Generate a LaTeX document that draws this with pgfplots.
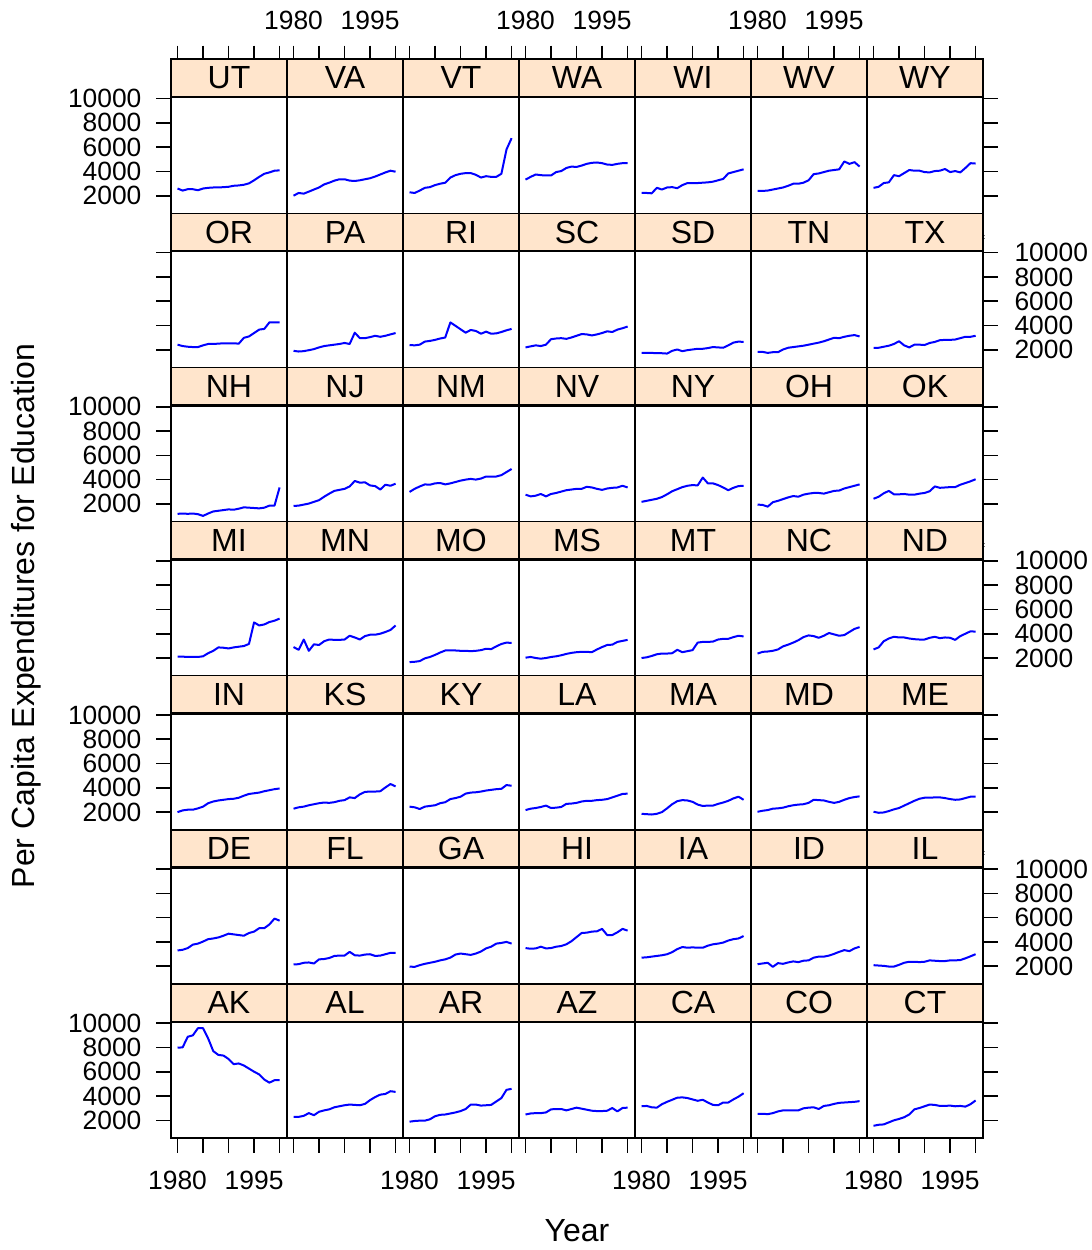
\documentclass[border=0pt]{standalone}
\usepackage{fontspec}
\setmainfont{Liberation Sans}
\usepackage{pgfplots}
\usepackage{pgfplotstable}
\pgfplotsset{compat=1.18}
\definecolor{stripc}{HTML}{FFE5CC}

\pgfplotstableread{
state 1980 1981 1982 1983 1984 1985 1986 1987 1988 1989 1990 1991 1992 1993 1994 1995 1996 1997 1998 1999 2000
UT 2592 2423 2536 2536 2451 2592 2649 2677 2677 2705 2733 2818 2846 2902 3015 3269 3551 3805 3918 4059 4087
VA 2000 2226 2169 2338 2508 2677 2931 3072 3241 3354 3354 3241 3213 3269 3354 3438 3579 3748 3918 4059 3974
VT 2282 2226 2423 2649 2705 2874 2987 3072 3495 3692 3805 3861 3861 3720 3495 3607 3551 3551 3805 5807 6738
WA 3325 3551 3748 3692 3664 3664 3946 4030 4284 4397 4369 4482 4623 4707 4735 4679 4566 4538 4623 4679 4679
WI 2226 2226 2197 2649 2508 2677 2705 2620 2874 3043 3043 3043 3072 3100 3156 3269 3382 3833 3946 4059 4171
WV 2395 2395 2423 2508 2592 2677 2818 2987 2987 3072 3269 3776 3833 3946 4059 4115 4171 4820 4623 4764 4397
WY 2649 2733 3043 3100 3692 3607 3861 4115 4059 4059 3946 3918 4030 4059 4199 3946 4030 3918 4284 4679 4651
OR 2423 2310 2254 2226 2226 2367 2480 2480 2508 2536 2536 2536 2508 2987 3100 3382 3664 3720 4256 4256 4256
PA 1915 1860 1890 1970 2056 2197 2310 2367 2423 2480 2564 2480 3410 2960 2960 3043 3156 3072 3156 3270 3380
RI 2395 2367 2423 2677 2733 2818 2931 3015 4256 3974 3692 3410 3635 3551 3325 3495 3325 3353 3466 3607 3720
SC 2197 2282 2367 2310 2423 2874 2931 2959 2902 3015 3156 3297 3269 3184 3269 3382 3522 3466 3664 3776 3917
SD 1746 1746 1746 1718 1718 1690 1915 2028 1887 1972 2028 2085 2085 2141 2226 2197 2169 2367 2592 2677 2649
TN 1831 1831 1746 1803 1803 2028 2169 2226 2282 2338 2423 2508 2592 2705 2846 2987 2959 3072 3156 3213 3100
TX 2169 2169 2254 2338 2480 2705 2367 2197 2423 2423 2395 2564 2649 2790 2818 2818 2846 2959 3072 3072 3156
NH 1182 1210 1182 1210 1154 1013 1210 1380 1436 1492 1549 1520 1605 1718 1690 1662 1633 1690 1859 1859 3354
NJ 1831 1859 1944 2028 2169 2310 2592 2846 3072 3156 3240 3438 3889 3748 3776 3522 3466 3184 3579 3494 3664
NM 2987 3240 3438 3607 3579 3692 3720 3607 3692 3804 3917 4002 4059 4002 4087 4256 4256 4256 4369 4622 4876
NV 2761 2620 2677 2818 2620 2818 2902 3015 3128 3184 3240 3240 3410 3353 3240 3156 3269 3325 3353 3494 3353
NY 2169 2254 2338 2423 2564 2790 3043 3213 3382 3494 3551 3522 4171 3692 3692 3551 3353 3128 3325 3466 3494
OH 1944 1915 1774 2141 2254 2395 2536 2649 2592 2761 2846 2902 2902 2846 2959 3072 3100 3269 3382 3494 3607
OK 2423 2592 2874 3072 2790 2790 2818 2761 2761 2846 2902 3043 3438 3325 3353 3382 3382 3579 3720 3861 4030
MI 2113 2113 2085 2085 2085 2141 2395 2592 2874 2846 2790 2874 2931 2987 3156 4932 4679 4763 4961 5073 5243
MN 2902 2677 3523 2592 3128 3072 3382 3522 3494 3494 3522 3833 3692 3522 3804 3917 3917 4002 4143 4312 4679
MO 1662 1690 1746 1972 2085 2254 2451 2620 2620 2620 2592 2592 2564 2592 2649 2761 2733 2959 3156 3269 3241
MS 2028 2085 2000 1944 2000 2085 2141 2226 2338 2423 2480 2508 2508 2480 2705 2902 3072 3100 3325 3410 3494
MT 2000 2056 2169 2310 2367 2367 2395 2677 2480 2564 2649 3269 3325 3325 3353 3522 3579 3579 3720 3833 3776
NC 2367 2508 2536 2592 2705 2959 3100 3269 3466 3720 3861 3804 3664 3833 4059 3945 3833 3889 4143 4397 4538
ND 2705 2874 3382 3607 3748 3692 3692 3607 3551 3522 3522 3664 3748 3635 3692 3664 3494 3804 4002 4199 4171
IN 2000 2141 2197 2197 2310 2451 2733 2874 2959 3015 3072 3100 3184 3353 3494 3551 3607 3720 3804 3889 3945
KS 2282 2395 2451 2564 2649 2733 2790 2761 2818 2931 2987 3213 3156 3466 3664 3692 3692 3720 4030 4312 4115
KY 2451 2395 2254 2451 2508 2564 2733 2818 3072 3156 3269 3522 3607 3635 3692 3776 3833 3889 3917 4227 4171
LA 2169 2282 2338 2423 2536 2338 2367 2423 2677 2705 2761 2874 2931 2931 2987 3015 3072 3213 3353 3494 3522
MA 1859 1831 1803 1859 2000 2310 2649 2902 2987 2959 2846 2620 2508 2536 2536 2677 2790 2931 3128 3269 3015
MD 2028 2113 2169 2282 2310 2367 2480 2564 2620 2649 2761 3015 2987 2959 2846 2761 2846 3015 3156 3240 3297
ME 2028 1944 1972 2085 2226 2338 2536 2733 2931 3100 3184 3184 3213 3213 3156 3072 3015 3043 3156 3269 3269
DE 3297 3353 3494 3776 3861 4030 4227 4284 4369 4510 4679 4622 4566 4510 4735 4848 5130 5130 5440 5920 5750
FL 2141 2169 2282 2310 2226 2564 2592 2677 2846 2874 2874 3184 2902 2874 2959 2987 2846 2874 2987 3100 3100
GA 1972 1944 2085 2197 2282 2367 2480 2564 2705 2959 3043 2987 2931 3043 3213 3466 3607 3861 3917 4002 3861
HI 3494 3438 3466 3607 3466 3494 3607 3664 3804 4059 4397 4735 4763 4848 4876 5074 4566 4566 4792 5074 4932
IA 2705 2733 2790 2846 2902 2987 3156 3410 3579 3522 3551 3522 3522 3692 3804 3861 3945 4115 4227 4284 4482
ID 2169 2226 2282 1944 2254 2197 2310 2395 2338 2451 2480 2705 2790 2790 2874 3015 3184 3325 3240 3466 3607
IL 2085 2056 2028 1972 1972 2113 2282 2367 2367 2338 2367 2480 2451 2423 2423 2480 2480 2508 2649 2818 2987
AK 7978 8006 8880 8994 9586 9586 8740 7696 7386 7330 7048 6625 6681 6512 6258 6004 5779 5356 5102 5300 5300
AL 2282 2282 2367 2592 2423 2705 2818 2902 3072 3156 3240 3297 3269 3240 3353 3664 3917 4115 4171 4397 4340
AR 1887 1944 1972 1972 2085 2338 2451 2480 2564 2649 2761 2931 3297 3297 3213 3240 3269 3551 3833 4509 4594
AZ 2480 2564 2592 2592 2649 2902 2931 2931 2818 2931 3043 2959 2874 2790 2761 2761 2790 3015 2733 3015 3043
CA 3156 3184 3072 3043 3325 3522 3692 3861 3889 3833 3720 3607 3692 3466 3269 3241 3466 3466 3720 3945 4227
CO 2536 2536 2508 2592 2733 2818 2818 2818 2818 2987 3043 3072 2931 3184 3240 3353 3438 3466 3494 3522 3579
CT 1549 1633 1662 1831 2000 2113 2254 2480 2902 3015 3156 3297 3269 3184 3184 3213 3156 3184 3128 3325 3635
}\raw
\pgfplotstabletranspose[colnames from=state, input colnames to=year]{\data}{\raw}

\pgfplotsset{
  panel/.style={scale only axis, width=58pt, height=58pt,
    xmin=1978.72, xmax=2001.45, ymin=535, ymax=10085,
    xtick=\empty, ytick=\empty,
    axis line style={line width=0.8pt},
    tick style={line width=0.8pt, black},
    major tick length=7.25pt, tick align=outside,
    every axis title shift=0pt,
    title style={at={(0.5,1)}, anchor=south, draw=black, line width=0.8pt,
      fill=stripc, minimum width=58pt, minimum height=18.75pt, inner sep=0pt,
      font=\fontsize{16}{16}\selectfont},
    ticklabel style={font=\fontsize{13.2}{13.2}\selectfont},
    /pgf/number format/assume math mode=true},
  dline/.style={color=blue, line width=1pt, line join=round, mark=none},
  xb/.style={xtick={1980,1985,1990,1995,2000}, xtick pos=left, xticklabel pos=left, xticklabels={1980,,,1995,}, xticklabel style={yshift=-5.5pt}},
  xbn/.style={xtick={1980,1985,1990,1995,2000}, xtick pos=left, xticklabel pos=left, xticklabels={,,,,}, xticklabel style={inner sep=0pt, minimum size=0pt}},
  yl/.style={ytick={2000,4000,6000,8000,10000}, ytick pos=left, yticklabel pos=left, yticklabels={2000,4000,6000,8000,10000}, yticklabel style={xshift=-4pt}},
  yln/.style={ytick={2000,4000,6000,8000,10000}, ytick pos=left, yticklabel pos=left, yticklabels={,,,,}, yticklabel style={inner sep=0pt, minimum size=0pt}},
  yr/.style={ytick={2000,4000,6000,8000,10000}, ytick pos=right, yticklabel pos=right, yticklabels={2000,4000,6000,8000,10000}, yticklabel style={xshift=5pt}},
  yrn/.style={ytick={2000,4000,6000,8000,10000}, ytick pos=right, yticklabel pos=right, yticklabels={,,,,}, yticklabel style={inner sep=0pt, minimum size=0pt}},
}

\newcommand\panel[4]{%
  \pgfmathsetmacro\px{85.5+58*#1}%
  \pgfmathsetmacro\py{-(48.75+77.05*#2)}%
  \begin{axis}[panel, at={(\px pt,\py pt)}, anchor=north west, title={#3}, #4]
    \addplot[dline] table[x=year, y=#3]{\data};
  \end{axis}}

\newcommand\topaxis[2]{%
  \pgfmathsetmacro\px{85.5+58*#1}%
  \begin{axis}[scale only axis, width=58pt, height=76.75pt,
    at={(\px pt,-106.75pt)}, anchor=south west,
    xmin=1978.72, xmax=2001.45, ymin=0, ymax=1,
    hide y axis, axis line style={draw=none},
    xtick={1980,1985,1990,1995,2000}, xtick pos=right, xticklabel pos=right,
    xticklabels={#2},
    tick style={line width=0.8pt, black},
    major tick length=7.25pt, tick align=outside,
    ticklabel style={font=\fontsize{13.2}{13.2}\selectfont},
    xticklabel style={yshift=4.5pt}]
  \end{axis}}

\begin{document}
\begin{tikzpicture}
\useasboundingbox (0,0) rectangle (546pt,-625pt);
% row 0
\panel{0}{0}{UT}{yl}
\panel{1}{0}{VA}{}
\panel{2}{0}{VT}{}
\panel{3}{0}{WA}{}
\panel{4}{0}{WI}{}
\panel{5}{0}{WV}{}
\panel{6}{0}{WY}{yrn}
% row 1
\panel{0}{1}{OR}{yln}
\panel{1}{1}{PA}{}
\panel{2}{1}{RI}{}
\panel{3}{1}{SC}{}
\panel{4}{1}{SD}{}
\panel{5}{1}{TN}{}
\panel{6}{1}{TX}{yr}
% row 2
\panel{0}{2}{NH}{yl}
\panel{1}{2}{NJ}{}
\panel{2}{2}{NM}{}
\panel{3}{2}{NV}{}
\panel{4}{2}{NY}{}
\panel{5}{2}{OH}{}
\panel{6}{2}{OK}{yrn}
% row 3
\panel{0}{3}{MI}{yln}
\panel{1}{3}{MN}{}
\panel{2}{3}{MO}{}
\panel{3}{3}{MS}{}
\panel{4}{3}{MT}{}
\panel{5}{3}{NC}{}
\panel{6}{3}{ND}{yr}
% row 4
\panel{0}{4}{IN}{yl}
\panel{1}{4}{KS}{}
\panel{2}{4}{KY}{}
\panel{3}{4}{LA}{}
\panel{4}{4}{MA}{}
\panel{5}{4}{MD}{}
\panel{6}{4}{ME}{yrn}
% row 5
\panel{0}{5}{DE}{yln}
\panel{1}{5}{FL}{}
\panel{2}{5}{GA}{}
\panel{3}{5}{HI}{}
\panel{4}{5}{IA}{}
\panel{5}{5}{ID}{}
\panel{6}{5}{IL}{yr}
% row 6
\panel{0}{6}{AK}{yl,xb}
\panel{1}{6}{AL}{xbn}
\panel{2}{6}{AR}{xb}
\panel{3}{6}{AZ}{xbn}
\panel{4}{6}{CA}{xb}
\panel{5}{6}{CO}{xbn}
\panel{6}{6}{CT}{yrn,xb}
% top axes
\topaxis{0}{,,,,}
\topaxis{1}{1980,,,1995,}
\topaxis{2}{,,,,}
\topaxis{3}{1980,,,1995,}
\topaxis{4}{,,,,}
\topaxis{5}{1980,,,1995,}
\topaxis{6}{,,,,}
\node[rotate=90, font=\fontsize{16}{16}\selectfont] at (13pt,-308pt) {Per Capita Expenditures for Education};
\node[font=\fontsize{16}{16}\selectfont] at (288.5pt,-615.5pt) {Year};
\end{tikzpicture}
\end{document}
